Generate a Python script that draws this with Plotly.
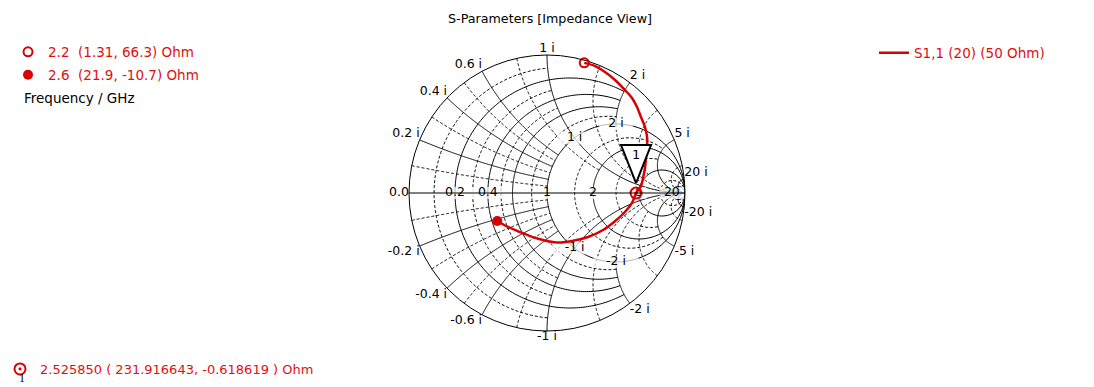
import numpy as np
import plotly.graph_objects as go

# ---------------- data ----------------
title_text = "S-Parameters [Impedance View]"
z0_ohm = 50.0
trace_name = "S1,1 (20) (50 Ohm)"

# S1,1 reflection coefficient (2.2 GHz -> 2.6 GHz)
freq_ghz = [2.200, 2.215, 2.230, 2.250, 2.270, 2.290, 2.310, 2.330, 2.350, 2.375,
            2.400, 2.425, 2.450, 2.475, 2.500, 2.52585,
            2.532, 2.538, 2.544, 2.550, 2.556, 2.562, 2.568, 2.574, 2.580, 2.586,
            2.593, 2.600]
s11_re = [0.270, 0.348, 0.420, 0.493, 0.565, 0.616, 0.652, 0.681, 0.710, 0.725,
          0.725, 0.717, 0.710, 0.696, 0.681, 0.6453,
          0.616, 0.558, 0.486, 0.406, 0.297, 0.181, 0.072, -0.029, -0.123, -0.196,
          -0.283, -0.3606]
s11_im = [0.943, 0.920, 0.877, 0.819, 0.746, 0.688, 0.623, 0.551, 0.478, 0.406,
          0.333, 0.254, 0.181, 0.109, 0.051, -0.0008,
          -0.072, -0.145, -0.210, -0.268, -0.319, -0.348, -0.359, -0.341, -0.312, -0.283,
          -0.246, -0.2025]

# end markers (frequency, impedance in Ohm)
mark_freq = [2.2, 2.6]
mark_r_ohm = [1.31, 21.9]
mark_x_ohm = [66.3, -10.7]
mark_labels = ["2.2  (1.31, 66.3) Ohm", "2.6  (21.9, -10.7) Ohm"]

# curve marker 1
probe_freq = 2.525850
probe_r_ohm = 231.916643
probe_x_ohm = -0.618619
probe_label = "2.525850 ( 231.916643, -0.618619 ) Ohm"

# grid tick values
real_ticks = [0.2, 0.4, 1, 2, 5, 20]
real_tick_text = ["0.2", "0.4", "1", "2", "5", "20"]
imag_ticks = [0.2, 0.4, 0.6, 1, 2, 5, 20]
inner_imag_ticks = [1, 2]

# ---------------- styling constants ----------------
RED = "#e00f0f"
CURVE_RED = "#d80000"
FONT = "DejaVu Sans"
FS = 12.5
W, H = 1094, 387
PAGE_OFF = 8                 # the page body margin shifts the figure by this many px
CX, CY, PXR = 547, 193, 138  # chart centre / radius in page px

def fx(px):
    return (px - PAGE_OFF) / W

def fy(py):
    return 1 - (py - PAGE_OFF) / H

def g2z(g):
    g = np.asarray(g, dtype=complex)
    return (1 + g) / (1 - g)

fig = go.Figure()

# ---------------- grid ----------------
def tanspace(lo, hi, n=240):
    return np.tan(np.linspace(np.arctan(lo), np.arctan(hi), n))

BIG = 1e4
# constant-r circles: (r, |x| limit) ; constant-x arcs: (x, r from, r to)
solid_r = [(0.2, 2), (0.4, 2), (0.6, 2), (1, BIG), (2, BIG), (5, BIG), (20, BIG)]
solid_x = [(0.2, 0, 1), (0.4, 0, 1), (0.6, 0, 1), (1, 0, BIG), (2, 0, 1),
           (5, 0, BIG), (20, 0, BIG)]
dash_r = [(0.1, 1), (0.3, 1), (0.5, 1), (0.8, 2), (1.5, 5), (3, 5), (10, BIG)]
dash_x = [(0.1, 0, 1), (0.3, 0, 1), (0.5, 0, 1), (0.8, 0, 2), (1.5, 0, 5), (2, 1, BIG),
          (3, 0, 5), (10, 0, BIG)]

def add_r(r, lim, dash):
    xs = tanspace(-lim, lim)
    fig.add_trace(go.Scattersmith(real=np.full_like(xs, r), imag=xs, mode="lines",
                                  line=dict(color="black", width=1, dash=dash),
                                  hoverinfo="skip", showlegend=False))

def add_x(x, lo, hi, dash):
    rs = tanspace(lo, hi)
    for s in (1, -1):
        fig.add_trace(go.Scattersmith(real=rs, imag=np.full_like(rs, s * x), mode="lines",
                                      line=dict(color="black", width=1, dash=dash),
                                      hoverinfo="skip", showlegend=False))

for v, l in dash_r:
    add_r(v, l, "3px,2px")
for v, lo, hi in dash_x:
    add_x(v, lo, hi, "3px,2px")
for v, l in solid_r:
    add_r(v, l, "solid")
for v, lo, hi in solid_x:
    add_x(v, lo, hi, "solid")

# ---------------- labels ----------------
lab_font = dict(family=FONT, size=FS, color="black")
# real axis labels with white backing
fig.add_trace(go.Scattersmith(
    real=real_ticks, imag=[0] * len(real_ticks), mode="markers+text",
    text=real_tick_text, textposition="middle center", textfont=lab_font,
    marker=dict(symbol="line-ew", size=[len(t) * 8 + 2 for t in real_tick_text],
                line=dict(color="white", width=12)),
    hoverinfo="skip", showlegend=False, cliponaxis=False))
fig.add_trace(go.Scattersmith(
    real=[0], imag=[0], mode="text", text=["0.0"], textposition="middle left",
    textfont=lab_font, hoverinfo="skip", showlegend=False, cliponaxis=False))

# outer rim labels
rim_text = [f"{v:g} i" for v in imag_ticks] + [f"-{v:g} i" for v in imag_ticks]
rim_imag = list(imag_ticks) + [-v for v in imag_ticks]

def rim_position(x):
    g = (1j * x - 1) / (1j * x + 1)
    c = g.real
    vert = "top" if x > 0 else "bottom"
    if c < -0.2:
        hor = "left"
    elif c <= 0.15:
        hor = "center"
    else:
        hor = "right"
    return f"{vert} {hor}"

fig.add_trace(go.Scattersmith(
    real=[0] * len(rim_imag), imag=rim_imag, mode="text", text=rim_text,
    textposition=[rim_position(x) for x in rim_imag], textfont=lab_font,
    hoverinfo="skip", showlegend=False, cliponaxis=False))

# inner labels on r = 1
inner_imag = list(inner_imag_ticks) + [-v for v in inner_imag_ticks]
inner_text = [f"{v:g} i" for v in inner_imag_ticks] + [f"-{v:g} i" for v in inner_imag_ticks]
fig.add_trace(go.Scattersmith(
    real=[1] * len(inner_imag), imag=inner_imag, mode="markers+text",
    text=inner_text, textposition="middle center", textfont=lab_font,
    marker=dict(symbol="line-ew", size=[len(t) * 8 for t in inner_text],
                line=dict(color="white", width=12)),
    hoverinfo="skip", showlegend=False, cliponaxis=False))

# ---------------- S11 curve ----------------
zc = g2z(np.array(s11_re) + 1j * np.array(s11_im))
fig.add_trace(go.Scattersmith(real=zc.real, imag=zc.imag, mode="lines",
                              line=dict(color=CURVE_RED, width=2.5, shape="spline", smoothing=1),
                              name=trace_name, legend="legend",
                              customdata=freq_ghz, hoverinfo="skip"))

# end markers
fig.add_trace(go.Scattersmith(
    real=[mark_r_ohm[0] / z0_ohm], imag=[mark_x_ohm[0] / z0_ohm], mode="markers",
    marker=dict(symbol="circle-open", size=9, color=CURVE_RED, line=dict(width=2)),
    name=mark_labels[0], legend="legend2", hoverinfo="skip"))
fig.add_trace(go.Scattersmith(
    real=[mark_r_ohm[1] / z0_ohm], imag=[mark_x_ohm[1] / z0_ohm], mode="markers",
    marker=dict(symbol="circle", size=10, color=CURVE_RED),
    name=mark_labels[1], legend="legend3", hoverinfo="skip"))

# probe marker callout triangle
zp = (probe_r_ohm + 1j * probe_x_ohm) / z0_ohm
gp = (zp - 1) / (zp + 1)
tri_px = [(0, -10), (-15, -48), (15, -48), (0, -10)]
tri_g = [gp + complex(dx, -dy) / PXR for dx, dy in tri_px]
tz = g2z(tri_g)
fig.add_trace(go.Scattersmith(real=tz.real, imag=tz.imag, mode="lines", fill="toself",
                              fillcolor="white", line=dict(color="black", width=2),
                              hoverinfo="skip", showlegend=False))
lz = g2z([gp + 1j * 37 / PXR])
fig.add_trace(go.Scattersmith(real=lz.real, imag=lz.imag, mode="text", text=["1"],
                              textfont=dict(family=FONT, size=13, color="black"),
                              hoverinfo="skip", showlegend=False))

fig.add_trace(go.Scattersmith(
    real=[probe_r_ohm / z0_ohm], imag=[probe_x_ohm / z0_ohm], mode="markers",
    marker=dict(symbol="circle-open-dot", size=11, color=CURVE_RED, line=dict(width=2)),
    name=probe_label, legend="legend4", hoverinfo="skip"))

# ---------------- layout ----------------
dom_x = [fx(CX - PXR), fx(CX + PXR)]
dom_y = [fy(CY + PXR), fy(CY - PXR)]
axis_common = dict(showgrid=False, showticklabels=False, ticks="", showline=True,
                   linecolor="black", linewidth=1)

def leg(x_px, y_px, size=13.5):
    return dict(x=fx(x_px), y=fy(y_px), xanchor="left", yanchor="middle",
                bgcolor="rgba(0,0,0,0)", borderwidth=0,
                font=dict(family=FONT, size=size, color=RED))

fig.update_layout(
    width=W, height=H, margin=dict(l=0, r=0, t=0, b=0, autoexpand=False),
    paper_bgcolor="white", plot_bgcolor="white",
    smith=dict(domain=dict(x=dom_x, y=dom_y), bgcolor="white",
               realaxis=dict(tickvals=real_ticks, **axis_common),
               imaginaryaxis=dict(tickvals=imag_ticks, **axis_common)),
    title=dict(text=title_text, x=fx(550), xanchor="center", y=fy(19), yanchor="middle",
               font=dict(family=FONT, size=12.7, color="black")),
    legend=leg(874, 53), legend2=leg(8, 52), legend3=leg(8, 75),
    legend4=leg(0, 369, 13),
    annotations=[
        dict(text="Frequency / GHz", x=fx(22), y=fy(98), xref="paper", yref="paper",
             xanchor="left", yanchor="middle", showarrow=False,
             font=dict(family=FONT, size=13.5, color="black")),
        dict(text="1", x=fx(22), y=fy(378), xref="paper", yref="paper",
             xanchor="center", yanchor="middle", showarrow=False,
             font=dict(family="Liberation Serif", size=12, color="black")),
    ],
)

fig.write_html("out.html")
